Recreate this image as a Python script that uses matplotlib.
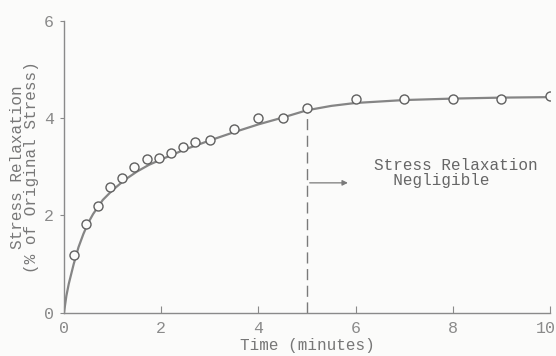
import matplotlib
matplotlib.use("Agg")
import matplotlib.pyplot as plt
from matplotlib.transforms import ScaledTranslation

# measured points (minutes, % of original stress)
time_pts = [0.2, 0.45, 0.7, 0.95, 1.2, 1.45, 1.7, 1.95, 2.2, 2.45, 2.7, 3.0,
            3.5, 4.0, 4.5, 5.0, 6.0, 7.0, 8.0, 9.0, 10.0]
relax_pts = [1.18, 1.83, 2.19, 2.58, 2.76, 2.99, 3.17, 3.19, 3.29, 3.40, 3.51, 3.56,
             3.78, 4.01, 4.01, 4.20, 4.39, 4.39, 4.40, 4.40, 4.45]

# hand-drawn fitted curve
curve_t = [0.0, 0.05, 0.1, 0.2, 0.3, 0.4, 0.5, 0.6, 0.8, 1.0, 1.25, 1.5, 1.75, 2.0,
           2.5, 3.0, 3.5, 4.0, 4.5, 5.0, 5.5, 6.0, 7.0, 8.0, 9.0, 10.0]
curve_y = [0.0, 0.35, 0.6, 1.0, 1.35, 1.62, 1.85, 2.03, 2.32, 2.52, 2.73, 2.9, 3.04, 3.15,
           3.36, 3.54, 3.71, 3.87, 4.01, 4.16, 4.25, 4.31, 4.37, 4.40, 4.42, 4.43]

cutoff = 5.0
ink = "#777777"
font = "Liberation Mono"
bg = "#fbfbfa"

fig = plt.figure(figsize=(5.56, 3.56), dpi=100, facecolor=bg)
ax = fig.add_axes([0.115, 0.121, 0.874, 0.821])
ax.set_facecolor(bg)

ax.plot(curve_t, curve_y, color="#858585", lw=1.6, zorder=2)
ax.plot(time_pts, relax_pts, "o", ms=6.5, mfc=bg, mec="#606060", mew=1.0, zorder=3)

# cutoff marker
y_cut = curve_y[curve_t.index(cutoff)]
ax.plot([cutoff, cutoff], [0, y_cut], color="#7a7a7a", lw=1.0, ls=(0, (8, 4)), zorder=1)
ax.annotate("", xy=(5.9, 2.67), xytext=(cutoff, 2.67),
            arrowprops=dict(arrowstyle="-|>", color="#7a7a7a", lw=0.9, mutation_scale=8))
ax.text(6.38, 3.18, "Stress Relaxation\n  Negligible", family=font, fontsize=11.5,
        color="#666666", va="top", ha="left", linespacing=1.0)

ax.set_xlim(0, 10)
ax.set_ylim(0, 6)
ax.set_xticks([0, 2, 4, 6, 8, 10])
ax.set_yticks([0, 2, 4, 6])
for s in ["top", "right"]:
    ax.spines[s].set_visible(False)
for s in ["left", "bottom"]:
    ax.spines[s].set_color("#8a8a8a")
    ax.spines[s].set_linewidth(1.0)
ax.tick_params(axis="x", direction="in", length=5, color="#8a8a8a", pad=6)
ax.tick_params(axis="y", direction="out", length=3, color="#8a8a8a", pad=4)
for lbl in ax.get_xticklabels() + ax.get_yticklabels():
    lbl.set_family(font)
    lbl.set_fontsize(12)
    lbl.set_color("#8a8a8a")
# keep the "10" inside the frame
last = ax.get_xticklabels()[-1]
last.set_transform(last.get_transform() + ScaledTranslation(-4 / 100, 0, fig.dpi_scale_trans))

ax.set_xlabel("Time (minutes)", family=font, fontsize=11.5, color=ink, labelpad=1)
ax.set_ylabel("Stress Relaxation\n(% of Original Stress)", family=font, fontsize=11.5,
              color=ink, labelpad=4, linespacing=0.9)

fig.savefig("out.png", dpi=100, facecolor=fig.get_facecolor())
